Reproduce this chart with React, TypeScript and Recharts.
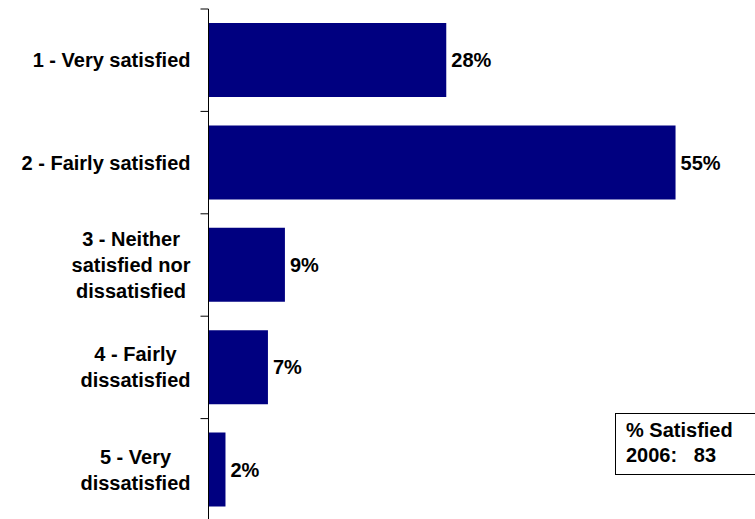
import { BarChart, Bar, XAxis, YAxis, LabelList } from "recharts"

const categories = [
    "1 - Very satisfied",
    "2 - Fairly satisfied",
    "3 - Neither satisfied nor dissatisfied",
    "4 - Fairly dissatisfied",
    "5 - Very dissatisfied",
]
const tickLines = [
    ["1 - Very satisfied"],
    ["2 - Fairly satisfied"],
    ["3 - Neither", "satisfied nor", "dissatisfied"],
    ["4 - Fairly", "dissatisfied"],
    ["5 - Very", "dissatisfied"],
]
const values = [28, 55, 9, 7, 2]

const data = categories.map((c, i) => ({ name: c, value: values[i] }))

const W = 755
const H = 540
const TOP = 9
const BOTTOM = 19
const FONT = "Liberation Sans, Arial, sans-serif"
const FS = 20
const band = (H - TOP - BOTTOM) / categories.length

let ctx: CanvasRenderingContext2D | null = null
function textWidth(s: string) {
    if (!ctx) ctx = document.createElement("canvas").getContext("2d")
    if (!ctx) return s.length * 10
    ctx.font = `bold ${FS}px ${FONT}`
    return ctx.measureText(s).width
}

// labels are centred line by line, the block sits right-aligned next to the axis
function CategoryTick(props: any) {
    const { x, y, index } = props
    const lines = tickLines[index] || []
    const right = x - 18
    const maxW = Math.max(...lines.map(textWidth))
    const cx = right - maxW / 2
    const lh = 26
    const first = y - ((lines.length - 1) * lh) / 2
    const last = index === categories.length - 1
    return (
        <g>
            <line x1={x - 8} x2={x} y1={y - band / 2} y2={y - band / 2} stroke="#000" />
            {last && <line x1={x - 8} x2={x} y1={y + band / 2} y2={y + band / 2} stroke="#000" />}
            <text
                x={cx}
                y={first}
                textAnchor="middle"
                dominantBaseline="central"
                fontFamily={FONT}
                fontWeight="bold"
                fontSize={FS}
                fill="#000"
            >
                {lines.map((l: string, i: number) => (
                    <tspan key={i} x={cx} y={first + i * lh}>
                        {l}
                    </tspan>
                ))}
            </text>
        </g>
    )
}

export default function App() {
    return (
        <div style={{ position: "fixed", left: 0, top: 0, width: W, height: 519, overflow: "hidden", background: "#fff" }}>
            <BarChart
                width={W}
                height={H}
                data={data}
                layout="vertical"
                margin={{ top: TOP, right: 37, bottom: BOTTOM, left: 0 }}
            >
                <XAxis type="number" domain={[0, 60]} hide />
                <YAxis
                    type="category"
                    dataKey="name"
                    width={208.5}
                    axisLine={{ stroke: "#000" }}
                    tickLine={false}
                    tickSize={0}
                    tickMargin={0}
                    tick={<CategoryTick />}
                    interval={0}
                />
                <Bar dataKey="value" fill="#000080" barSize={74} isAnimationActive={false}>
                    <LabelList
                        dataKey="value"
                        position="right"
                        offset={5}
                        formatter={(v: any) => `${v}%`}
                        fill="#000"
                        fontFamily={FONT}
                        fontWeight="bold"
                        fontSize={FS}
                    />
                </Bar>
            </BarChart>
            <div
                style={{
                    position: "absolute",
                    left: 615,
                    top: 413,
                    width: 150,
                    height: 62,
                    border: "1px solid #000",
                    fontFamily: FONT,
                    fontWeight: "bold",
                    fontSize: FS,
                    lineHeight: "25px",
                    padding: "4px 0 0 10px",
                    boxSizing: "border-box",
                    whiteSpace: "pre",
                }}
            >
                {"% Satisfied\n2006:   83"}
            </div>
        </div>
    )
}
